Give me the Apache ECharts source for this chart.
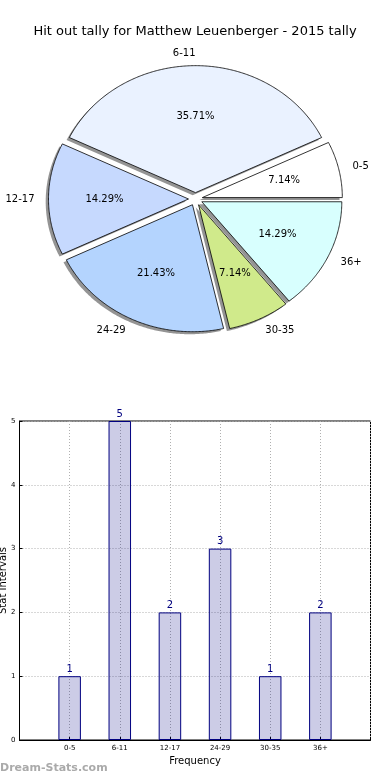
<!DOCTYPE html>
<html><head><meta charset="utf-8">
<script src="https://cdn.jsdelivr.net/npm/echarts@6/dist/echarts.min.js"></script>
<style>html,body{margin:0;padding:0;background:#fff}#c{width:390px;height:780px}</style>
</head><body><div id="c"></div><script>
const categories = ['0-5','6-11','12-17','24-29','30-35','36+'];
const counts = [1,5,2,3,1,2];
const sliceColors = ['#ffffff','#eaf2ff','#c6d9fe','#b4d4fe','#d0ea8b','#d8fffe'];
const yTicks = [0,1,2,3,4,5];
const titleText = 'Hit out tally for Matthew Leuenberger - 2015 tally';

const total = counts.reduce((a,b)=>a+b,0);
const PIE = {cx:195.5, cy:199, rx:140, ry:127, explode:0.05, shadow:[-2.8,2.5]};
const FONT = '"DejaVu Sans", sans-serif';
function pieRender(params, api){
  const i = params.dataIndex;
  let before = 0; for (let k=0;k<i;k++) before += counts[k];
  const v = api.value(0);
  const a0 = before/total*2*Math.PI, a1 = (before+v)/total*2*Math.PI, am=(a0+a1)/2;
  const ox = PIE.cx + PIE.explode*PIE.rx*Math.cos(am);
  const oy = PIE.cy - PIE.explode*PIE.ry*Math.sin(am);
  const pts=[[ox,oy]];
  const n = Math.max(8, Math.ceil((a1-a0)/0.01));
  for (let j=0;j<=n;j++){ const a=a0+(a1-a0)*j/n; pts.push([ox+PIE.rx*Math.cos(a), oy-PIE.ry*Math.sin(a)]); }
  const shadowPts = pts.map(p=>[p[0]+PIE.shadow[0], p[1]+PIE.shadow[1]]);
  const lx = ox + 1.1*PIE.rx*Math.cos(am), ly = oy - 1.1*PIE.ry*Math.sin(am);
  const px = ox + 0.6*PIE.rx*Math.cos(am), py = oy - 0.6*PIE.ry*Math.sin(am);
  const font = '10px ' + FONT;
  return {type:'group', children:[
    {type:'polygon', z2:1, silent:true, shape:{points:shadowPts}, style:{fill:'rgba(0,0,0,0.42)'}},
    {type:'polygon', z2:10, shape:{points:pts}, style:{fill:sliceColors[i], stroke:'#000', lineWidth:0.8, lineJoin:'round'}},
    {type:'text', z2:20, style:{text:(v/total*100).toFixed(2)+'%', x:px, y:py, align:'center', verticalAlign:'middle', font:font, fill:'#000'}},
    {type:'text', z2:20, style:{text:categories[i], x:lx, y:ly, align: Math.cos(am)>1e-9?'left':'right', verticalAlign:'middle', font:font, fill:'#000'}}
  ]};
}

const chart = echarts.init(document.getElementById('c'), null, {renderer:'canvas'});
const gridLine = {show:true, lineStyle:{color:'#b0b0b0', width:1, type:[1,2]}};
chart.setOption({
  animation:false,
  textStyle:{fontFamily:FONT},
  title:{text:titleText, left:'center', top:20, textStyle:{fontSize:13, fontWeight:'normal', color:'#000', fontFamily:FONT}},
  grid:{left:19.5, right:19.5, top:421, bottom:40, show:true, borderColor:'#000', borderWidth:1, containLabel:false, outerBoundsMode:'none'},
  xAxis:{type:'value', min:-1, max:6, interval:1,
    axisLine:{show:true, onZero:false, lineStyle:{color:'#000'}},
    axisTick:{show:true, inside:true, length:3, lineStyle:{color:'#000'}},
    axisLabel:{formatter:v=>categories[v]||'', fontSize:7, color:'#000', margin:5, fontFamily:FONT},
    splitLine:gridLine,
    name:'Frequency', nameLocation:'middle', nameGap:16, nameMoveOverlap:false, nameTextStyle:{fontSize:10, color:'#000', fontFamily:FONT}},
  yAxis:{type:'value', min:yTicks[0], max:yTicks[yTicks.length-1], interval:1,
    axisLine:{show:true, onZero:false, lineStyle:{color:'#000'}},
    axisTick:{show:true, inside:true, length:3, lineStyle:{color:'#000'}},
    axisLabel:{fontSize:7, color:'#000', margin:4, fontFamily:FONT},
    splitLine:gridLine,
    name:'Stat Intervals', nameLocation:'middle', nameGap:11, nameMoveOverlap:false, nameTextStyle:{fontSize:10, color:'#000', fontFamily:FONT}},
  graphic:[{type:'text', left:0, top:763, style:{text:'Dream-Stats.com', font:'bold 11px '+FONT, fill:'#aaaaaa'}}],
  series:[
    {type:'custom', coordinateSystem:'none', renderItem:pieRender, data:counts.map(c=>[c])},
    {type:'bar', data:counts.map((c,i)=>[i,c]), barWidth:22.5,
      itemStyle:{color:'rgba(0,0,128,0.2)', borderColor:'#000080', borderWidth:1},
      label:{show:true, position:'top', distance:2, color:'#000080', fontSize:10, fontFamily:FONT}}
  ]
});
</script></body></html>
